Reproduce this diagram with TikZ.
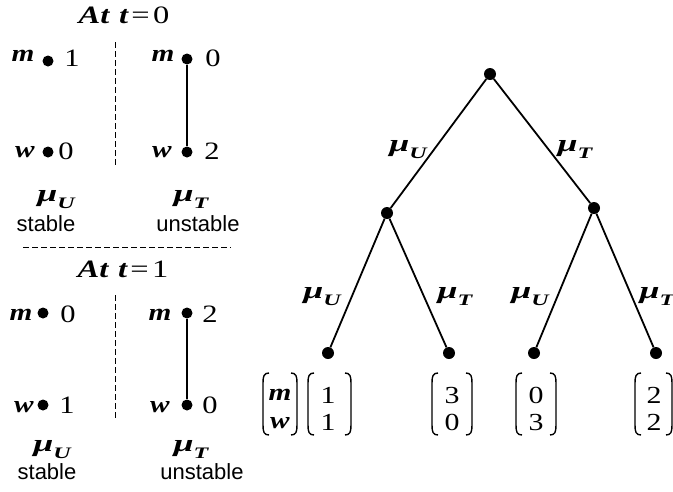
\documentclass[tikz,border=0pt]{standalone}
\usepackage{graphicx}
\usepackage{fontspec}
\setmainfont{Liberation Serif}
\newfontfamily\labelsans{Liberation Sans}
% mathematical lettering is set wide
\newcommand\sx[1]{\scalebox{1.22}[1]{#1}}
\newcommand\hx[1]{\scalebox{1.3}[1]{#1}}
\newcommand\bim[1]{{\bfseries\itshape #1}}
\newcommand\subbi[1]{\raisebox{-0.3em}{\fontsize{16}{16}\selectfont\bim{#1}}}
\newcommand\muU{\scalebox{1.5}[1]{\bim{μ}\subbi{U}}}
\newcommand\muT{\scalebox{1.5}[1]{\bim{μ}\subbi{T}}}
\newcommand\hdrtext[1]{\hx{\bim{At}\hspace{0.3em}\bim{t}\hspace{0.1em}=\hspace{0.1em}#1}}
\tikzset{
  dot/.style={circle,fill=black,inner sep=0pt,minimum size=11pt},
  tdot/.style={dot,minimum size=12pt},
  lbl/.style={inner sep=0pt,anchor=base,font=\fontsize{25}{27}\selectfont},
  let/.style={inner sep=0pt,anchor=base,font=\fontsize{24}{26}\selectfont},
  hdr/.style={inner sep=0pt,anchor=base,font=\fontsize{25}{27}\selectfont},
  mlbl/.style={inner sep=0pt,anchor=base,font=\fontsize{24}{26}\selectfont},
  txt/.style={inner sep=0pt,anchor=base,font=\labelsans\fontsize{22}{24}\selectfont},
  vec/.style={inner sep=0pt,anchor=base,font=\fontsize{24.5}{27}\selectfont},
  edge/.style={line width=1.8pt},
  sepline/.style={dash pattern=on 6pt off 3pt,line width=1pt},
  brk/.style={line width=1.4pt}
}
% left and right bracket of a column vector: outer x, top y, bottom y
\newcommand\lbrk[3]{\draw[brk] (#1+6,#2) .. controls (#1+1,#2) and (#1,#2+3) .. (#1,#2+10) -- (#1,#3-10) .. controls (#1,#3-3) and (#1+1,#3) .. (#1+6,#3);}
\newcommand\rbrk[3]{\draw[brk] (#1-6,#2) .. controls (#1-1,#2) and (#1,#2+3) .. (#1,#2+10) -- (#1,#3-10) .. controls (#1,#3-3) and (#1-1,#3) .. (#1-6,#3);}
\begin{document}
\begin{tikzpicture}[x=1pt,y=-1pt]
\useasboundingbox (0,0) rectangle (673,491);

% ---------- t = 0 ----------
\node[hdr] (h0) at (124,23) {\hdrtext{0}};
\node[let] (m0a) at (23,61) {\sx{\bim{m}}};
\node[dot] (dm0a) at (48,61) {};
\node[lbl] (v0a) at (72,66) {\sx{1}};
\node[let] (w0a) at (25,157) {\sx{\bim{w}}};
\node[dot] (dw0a) at (48,152) {};
\node[lbl] (u0a) at (66,159) {\sx{0}};
\node[let] (m0b) at (163,61) {\sx{\bim{m}}};
\node[dot] (dm0b) at (187,59) {};
\node[lbl] (v0b) at (213,66) {\sx{0}};
\node[let] (w0b) at (162,157) {\sx{\bim{w}}};
\node[dot] (dw0b) at (187,152) {};
\node[lbl] (u0b) at (212,159) {\sx{2}};
\draw[edge] (dm0b) -- (dw0b);
\coordinate (s0t) at (115,42);
\coordinate (s0b) at (115,167);
\draw[sepline] (s0t) -- (s0b);
\node[mlbl] (mu0a) at (56,201) {\muU};
\node[mlbl] (mu0b) at (191,201) {\muT};
\node[txt] (st0a) at (46,231) {stable};
\node[txt] (st0b) at (198,231) {unstable};
\coordinate (hl) at (23,247);
\coordinate (hr) at (231,247);
\draw[sepline] (hl) -- (hr);

% ---------- t = 1 ----------
\node[hdr] (h1) at (123,277) {\hdrtext{1}};
\node[let] (m1a) at (21,320) {\sx{\bim{m}}};
\node[dot] (dm1a) at (43,313) {};
\node[lbl] (v1a) at (68,322) {\sx{0}};
\node[let] (w1a) at (24,412) {\sx{\bim{w}}};
\node[dot] (dw1a) at (43,405) {};
\node[lbl] (u1a) at (67,413) {\sx{1}};
\node[let] (m1b) at (160,320) {\sx{\bim{m}}};
\node[dot] (dm1b) at (187,313) {};
\node[lbl] (v1b) at (210,322) {\sx{2}};
\node[let] (w1b) at (160,412) {\sx{\bim{w}}};
\node[dot] (dw1b) at (187,405) {};
\node[lbl] (u1b) at (210,413) {\sx{0}};
\draw[edge] (dm1b) -- (dw1b);
\coordinate (s1t) at (115,295);
\coordinate (s1b) at (115,420);
\draw[sepline] (s1t) -- (s1b);
\node[mlbl] (mu1a) at (52,451) {\muU};
\node[mlbl] (mu1b) at (191,451) {\muT};
\node[txt] (st1a) at (47,479) {stable};
\node[txt] (st1b) at (202,479) {unstable};

% ---------- tree ----------
\node[tdot] (root) at (490,74) {};
\node[tdot] (nl) at (387,213) {};
\node[tdot] (nr) at (594,208) {};
\node[tdot] (l1) at (328,353) {};
\node[tdot] (l2) at (449,353) {};
\node[tdot] (l3) at (534,353) {};
\node[tdot] (l4) at (656,353) {};
\draw[edge] (root) -- (nl);
\draw[edge] (root) -- (nr);
\draw[edge] (nl) -- (l1);
\draw[edge] (nl) -- (l2);
\draw[edge] (nr) -- (l3);
\draw[edge] (nr) -- (l4);
\node[mlbl] (eu) at (408,151) {\muU};
\node[mlbl] (et) at (575,151) {\muT};
\node[mlbl] (eu1) at (322,298) {\muU};
\node[mlbl] (et1) at (455,298) {\muT};
\node[mlbl] (eu2) at (530,298) {\muU};
\node[mlbl] (et2) at (657,298) {\muT};

% ---------- payoff vectors ----------
\node[let] (vm) at (280,400) {\sx{\bim{m}}};
\node[let] (vw) at (280,428) {\sx{\bim{w}}};
\lbrk{263}{373}{435}\rbrk{297}{373}{435}
\node[vec] (a1) at (328,403) {\sx{1}};
\node[vec] (a2) at (328,430) {\sx{1}};
\lbrk{308}{373}{435}\rbrk{351}{373}{435}
\node[vec] (b1) at (452,403) {\sx{3}};
\node[vec] (b2) at (452,430) {\sx{0}};
\lbrk{432}{373}{435}\rbrk{472}{373}{435}
\node[vec] (c1) at (536,403) {\sx{0}};
\node[vec] (c2) at (536,430) {\sx{3}};
\lbrk{516}{373}{435}\rbrk{556}{373}{435}
\node[vec] (d1) at (654,403) {\sx{2}};
\node[vec] (d2) at (654,430) {\sx{2}};
\lbrk{635}{373}{435}\rbrk{672}{373}{435}
\end{tikzpicture}
\end{document}
